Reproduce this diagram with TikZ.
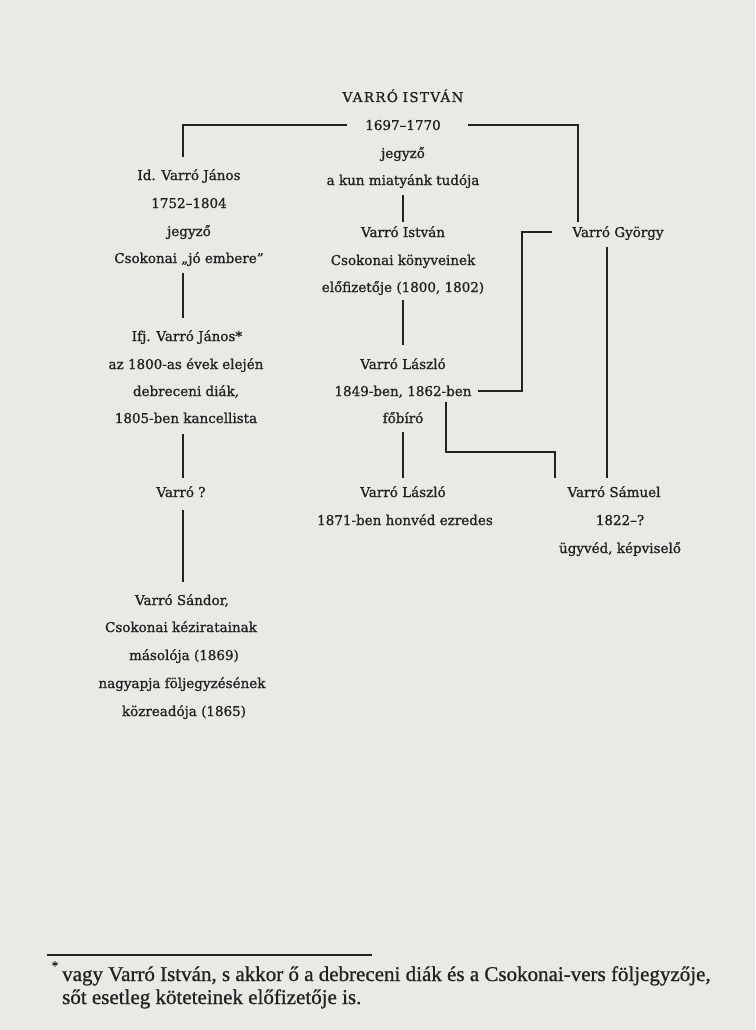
\documentclass[tikz,border=0pt]{standalone}
\usepackage{fontspec}
\usetikzlibrary{calc}
\newfontfamily\diagfont[FakeBold=1.1]{DejaVu Serif}
\newfontfamily\fnfont[FakeBold=0.9]{Liberation Serif}
\definecolor{paper}{HTML}{E9E9E6}
\definecolor{ink}{HTML}{222222}
\newcommand\diagsize{\diagfont\fontsize{13.5}{16}\selectfont}
\newcommand\fnsize{\fnfont\fontsize{21}{24}\selectfont}
\tikzset{
  lbl/.style={font=\diagsize, text=ink, inner sep=0pt, anchor=base},
  fn/.style={font=\fnsize, text=ink, inner sep=0pt, anchor=base west},
  link/.style={draw=ink, line width=2.4pt, line cap=butt, line join=miter},
  fnrule/.style={draw=ink, line width=1.4pt},
}
\begin{document}
\begin{tikzpicture}[x=1pt,y=-1pt]
\fill[paper] (0,0) rectangle (755,1030);
\useasboundingbox (0,0) rectangle (755,1030);
% column coordinates
\coordinate (cL) at (183,0);
\coordinate (cM) at (403,0);
\coordinate (cT) at (578,0);
\coordinate (cR) at (607,0);
\coordinate (cS) at (555,0);
\coordinate (cB) at (522,0);
% top
\node[lbl] (t1) at (403,102) {\addfontfeature{LetterSpace=10}VARRÓ\hspace{0.35em}ISTVÁN};
\node[lbl] (t2) at (403,130) {1697–1770};
\node[lbl] (t3) at (403,158) {jegyző};
\node[lbl] (t4) at (403,185) {a kun miatyánk tudója};
% left column
\node[lbl] (L1a) at (189,180) {Id. Varró János};
\node[lbl] (L1b) at (189,208) {1752–1804};
\node[lbl] (L1c) at (189,236) {jegyző};
\node[lbl] (L1d) at (189,263) {Csokonai „jó embere”};
\node[lbl] (L2a) at (187,341) {Ifj. Varró János*};
\node[lbl] (L2b) at (186,369) {az 1800-as évek elején};
\node[lbl] (L2c) at (186,396) {debreceni diák,};
\node[lbl] (L2d) at (186,423) {1805-ben kancellista};
\node[lbl] (L3) at (181,497) {Varró ?};
\node[lbl] (L4a) at (182,605) {Varró Sándor,};
\node[lbl] (L4b) at (181,632) {Csokonai kéziratainak};
\node[lbl] (L4c) at (184,660) {másolója (1869)};
\node[lbl] (L4d) at (182,688) {nagyapja följegyzésének};
\node[lbl] (L4e) at (184,716) {közreadója (1865)};
% middle column
\node[lbl] (M1a) at (403,237) {Varró István};
\node[lbl] (M1b) at (403,265) {Csokonai könyveinek};
\node[lbl] (M1c) at (403,292) {előfizetője (1800, 1802)};
\node[lbl] (M2a) at (403,369) {Varró László};
\node[lbl] (M2b) at (403,396) {1849-ben, 1862-ben};
\node[lbl] (M2c) at (403,423) {főbíró};
\node[lbl] (M3a) at (403,497) {Varró László};
\node[lbl] (M3b) at (405,525) {1871-ben honvéd ezredes};
% right column
\node[lbl] (R1) at (618,237) {Varró György};
\node[lbl] (R2a) at (614,497) {Varró Sámuel};
\node[lbl] (R2b) at (620,525) {1822–?};
\node[lbl] (R2c) at (620,553) {ügyvéd, képviselő};
% connectors
\draw[link] ($(t2.base west)+(-18,-5)$) -| ($(L1a.base -| cL)+(0,-23)$);
\draw[link] ($(t2.base east)+(27,-5)$) -| ($(R1.base -| cT)+(0,-15)$);
\draw[link] ($(t4.base -| cM)+(0,10)$) -- ($(M1a.base -| cM)+(0,-15)$);
\draw[link] ($(L1d.base -| cL)+(0,10)$) -- ($(L2a.base -| cL)+(0,-23)$);
\draw[link] ($(L2d.base -| cL)+(0,11)$) -- ($(L3.base -| cL)+(0,-19)$);
\draw[link] ($(L3.base -| cL)+(0,13)$) -- ($(L4a.base -| cL)+(0,-23)$);
\draw[link] ($(M1c.base -| cM)+(0,8)$) -- ($(M2a.base -| cM)+(0,-24)$);
\draw[link] ($(M2c.base -| cM)+(0,9)$) -- ($(M3a.base -| cM)+(0,-19)$);
\draw[link] ($(M2b.base east)+(6,-5)$) -| ($(cB |- R1.base)+(0,-5)$) -- ($(R1.base west)+(-20,-5)$);
\draw[link] ($(R1.base -| cR)+(0,10)$) -- ($(R2a.base -| cR)+(0,-19)$);
\draw[link] ($(M2b.base east)+(-26,6)$) |- ($(R2a.base -| cS)+(0,-45)$) -- ($(R2a.base -| cS)+(0,-19)$);
% footnote
\coordinate (fr1) at (47,955);
\coordinate (fr2) at (372,955);
\draw[fnrule] (fr1) -- (fr2);
\node[font=\fnfont\fontsize{13}{13}\selectfont, text=ink, inner sep=0pt, anchor=base] (ast) at (55,970) {*};
\node[fn] (fn1) at (62,981) {vagy Varró István, s akkor ő a debreceni diák és a Csokonai-vers följegyzője,};
\node[fn] (fn2) at (62,1004) {sőt esetleg köteteinek előfizetője is.};
\end{tikzpicture}
\end{document}
